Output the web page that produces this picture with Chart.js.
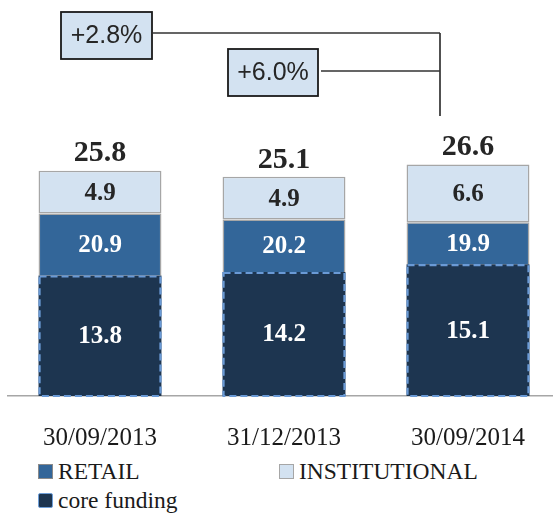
<!DOCTYPE html>
<html>
<head>
<meta charset="utf-8">
<script src="https://cdn.jsdelivr.net/npm/chart.js@4"></script>
<style>
  body { margin: 0; background: #fff; width: 553px; height: 514px; overflow: hidden; position: relative; }
  #wrap { position: absolute; left: 0; top: 0; width: 560px; height: 456px; }
  .legend { position: absolute; font-family: "Liberation Serif", serif; font-size: 23.5px; color: #1a1a1a; line-height: 23px; }
  .legend span.box { display: inline-block; width: 13px; height: 13px; margin-right: 5px; vertical-align: 0px; }
</style>
</head>
<body>
<div id="wrap"><canvas id="myChart" width="560" height="456"></canvas></div>
<div class="legend" style="left:38px; top:460px;"><span class="box" style="background:#336699; border:1px solid #8a8a8a;"></span>RETAIL</div>
<div class="legend" style="left:279px; top:460px;"><span class="box" style="background:#d3e2f1; border:1px solid #a6a6a6;"></span>INSTITUTIONAL</div>
<div class="legend" style="left:38px; top:489px;"><span class="box" style="background:#1d3550; border:1px solid #6f9fd8; border-radius:2px;"></span>core funding</div>
<script>
// categories and values (bn)
const dates = ['30/09/2013', '31/12/2013', '30/09/2014'];
const coreFunding = [13.8, 14.2, 15.1];
const retail = [20.9, 20.2, 19.9];
const institutional = [4.9, 4.9, 6.6];
const totals = [25.8, 25.1, 26.6];
const growth = ['+2.8%', '+6.0%'];

// retail part above core funding (core funding is inside retail)
const retailRest = retail.map((v, i) => +(v - coreFunding[i]).toFixed(1));

const labelFont = '"Liberation Serif", serif';

// labels inside segments, totals and the dashed core funding frame
const barLabels = {
    id: 'barLabels',
    afterDatasetsDraw(chart) {
        const ctx = chart.ctx;
        ctx.save();

        // dashed frame round core funding
        const core = chart.getDatasetMeta(0);
        ctx.strokeStyle = '#6a9ad6';
        ctx.lineWidth = 2.2;
        ctx.setLineDash([7, 4]);
        core.data.forEach(bar => {
            const w = bar.width;
            ctx.strokeRect(bar.x - w / 2 + 1, bar.y + 1, w - 2, bar.base - bar.y - 1);
        });
        ctx.setLineDash([]);

        ctx.textAlign = 'center';
        ctx.textBaseline = 'middle';
        const texts = [coreFunding, retail, institutional];
        const colors = ['#ffffff', '#ffffff', '#262626'];
        for (let d = 0; d < 3; d++) {
            const meta = chart.getDatasetMeta(d);
            ctx.fillStyle = colors[d];
            ctx.font = 'bold 25px ' + labelFont;
            meta.data.forEach((bar, i) => {
                ctx.fillText(texts[d][i].toFixed(1), bar.x, (bar.y + bar.base) / 2 + 1);
            });
        }

        // totals on top
        const top = chart.getDatasetMeta(2);
        ctx.fillStyle = '#262626';
        ctx.font = 'bold 30px ' + labelFont;
        top.data.forEach((bar, i) => {
            ctx.fillText(totals[i].toFixed(1), bar.x, bar.y - 17);
        });

        // growth boxes
        ctx.strokeStyle = '#333';
        ctx.lineWidth = 1.7;
        ctx.beginPath();
        ctx.moveTo(153, 33); ctx.lineTo(440, 33);
        ctx.moveTo(440, 33); ctx.lineTo(440, 116);
        ctx.moveTo(321, 71); ctx.lineTo(440, 71);
        ctx.stroke();

        const boxes = [[61, 12, 91, 47], [228, 49, 90, 47]];
        ctx.font = '25px "Liberation Sans", sans-serif';
        boxes.forEach((b, i) => {
            ctx.fillStyle = '#d3e2f1';
            ctx.fillRect(b[0], b[1], b[2], b[3]);
            ctx.strokeStyle = '#1a1a1a';
            ctx.lineWidth = 1.8;
            ctx.strokeRect(b[0], b[1], b[2], b[3]);
            ctx.fillStyle = '#262626';
            ctx.fillText(growth[i], b[0] + b[2] / 2, b[1] + b[3] / 2 + 1);
        });

        ctx.restore();
    }
};

new Chart(document.getElementById('myChart').getContext('2d'), {
    type: 'bar',
    data: {
        labels: dates,
        datasets: [{
            label: 'core funding',
            data: coreFunding,
            backgroundColor: '#1d3550',
            borderWidth: 0
        }, {
            label: 'RETAIL',
            data: retailRest,
            backgroundColor: '#336699',
            borderColor: '#a6a6a6',
            borderWidth: 1.5,
            borderSkipped: 'bottom'
        }, {
            label: 'INSTITUTIONAL',
            data: institutional,
            backgroundColor: '#d3e2f1',
            borderColor: '#a6a6a6',
            borderWidth: 1.5,
            borderSkipped: false
        }]
    },
    options: {
        responsive: false,
        animation: false,
        events: [],
        layout: { padding: { left: 8, right: 0, top: 134, bottom: 0 } },
        datasets: { bar: { categoryPercentage: 1, barPercentage: 0.668 } },
        plugins: { legend: { display: false }, tooltip: { enabled: false } },
        scales: {
            x: {
                stacked: true,
                grid: { display: false, drawTicks: false },
                border: { display: true, color: '#a6a6a6', width: 1.5 },
                ticks: { color: '#1a1a1a', font: { family: labelFont, size: 25 }, padding: 27 },
                afterFit: scale => { scale.height = 60; }
            },
            y: {
                stacked: true,
                display: false,
                min: 0,
                max: 30
            }
        }
    },
    plugins: [barLabels]
});
</script>
</body>
</html>
